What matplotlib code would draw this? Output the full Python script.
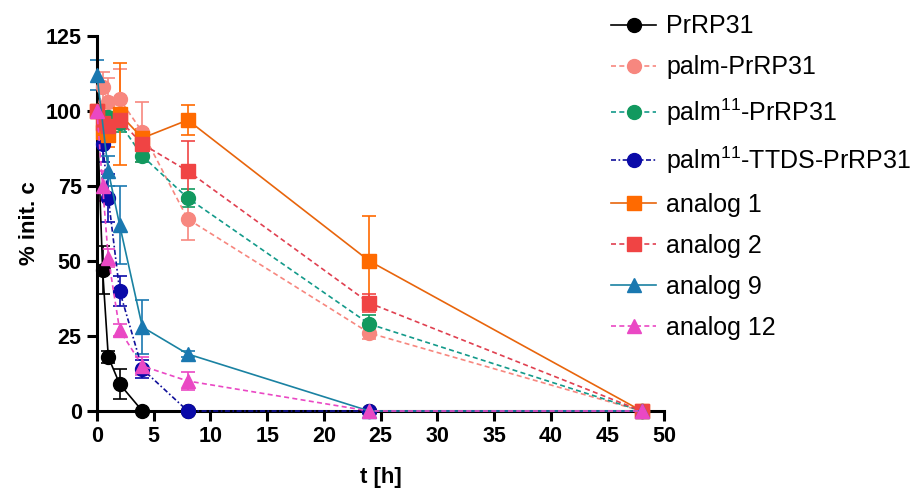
import matplotlib
matplotlib.use("Agg")
import matplotlib.pyplot as plt

plt.rcParams['font.family'] = ['Liberation Sans', 'DejaVu Sans']
plt.rcParams['mathtext.fontset'] = 'custom'
plt.rcParams['mathtext.rm'] = 'Liberation Sans'
plt.rcParams['mathtext.default'] = 'regular'

labels = ["PrRP31", "palm-PrRP31", "palm$^{11}$-PrRP31", "palm$^{11}$-TTDS-PrRP31",
          "analog 1", "analog 2", "analog 9", "analog 12"]

t_prrp31 = [0, 0.5, 1, 2, 4, 8, 24, 48]
y_prrp31 = [100, 47, 18, 9, 0, 0, 0, 0]
e_prrp31 = [0, 8, 2, 5, 0, 0, 0, 0]

t_palm = [0, 0.5, 1, 2, 4, 8, 24, 48]
y_palm = [100, 108, 103, 104, 93, 64, 26, 0]
e_palm = [0, 5, 8, 10, 10, 7, 2, 0]

t_palm11 = [0, 0.5, 1, 2, 4, 8, 24, 48]
y_palm11 = [100, 98, 98, 96, 85, 71, 29, 0]
e_palm11 = [0, 4, 3, 3, 2, 3, 3, 0]

t_ttds = [0, 0.5, 1, 2, 4, 8, 24, 48]
y_ttds = [100, 89, 71, 40, 14, 0, 0, 0]
e_ttds = [0, 6, 8, 5, 3, 0, 0, 0]

t_an1 = [0, 0.5, 1, 2, 4, 8, 24, 48]
y_an1 = [100, 93, 92, 99, 91, 97, 50, 0]
e_an1 = [0, 3, 4, 17, 3, 5, 15, 0]

t_an2 = [0, 0.5, 1, 2, 4, 8, 24, 48]
y_an2 = [100, 96, 95, 97, 89, 80, 36, 0]
e_an2 = [0, 4, 4, 3, 2, 10, 3, 0]

t_an9 = [0, 1, 2, 4, 8, 24, 48]
y_an9 = [112, 80, 62, 28, 19, 0, 0]
e_an9 = [5, 5, 13, 9, 1, 0, 0]

t_an12 = [0, 0.5, 1, 2, 4, 8, 24, 48]
y_an12 = [100, 75, 51, 27, 15, 10, 0, 0]
e_an12 = [0, 5, 3, 2, 3, 3, 0, 0]

series = [
    (t_prrp31, y_prrp31, e_prrp31, "#000000", "#000000", "o", "-"),
    (t_palm, y_palm, e_palm, "#F7877F", "#F7877F", "o", (0, (3, 2))),
    (t_palm11, y_palm11, e_palm11, "#12995F", "#139A8A", "o", (0, (3, 2))),
    (t_ttds, y_ttds, e_ttds, "#0A0AA8", "#10109A", "o", (0, (3, 1.5, 1, 1.5))),
    (t_an1, y_an1, e_an1, "#FF6A00", "#E8650C", "s", "-"),
    (t_an2, y_an2, e_an2, "#F04444", "#E04050", "s", (0, (3, 2))),
    (t_an9, y_an9, e_an9, "#1A78B0", "#1A82A2", "^", "-"),
    (t_an12, y_an12, e_an12, "#EA48C4", "#EA48C4", "^", (0, (3, 2))),
]

fig = plt.figure(figsize=(9.19, 4.94), dpi=100)
ax = fig.add_axes([0.1055, 0.168, 0.6175, 0.759])

handles = []
for (t, y, e, mc, lc, m, ls), lab in zip(series, labels):
    ax.errorbar(t, y, yerr=e, fmt='none', ecolor=mc, elinewidth=1.2,
                capsize=5, capthick=1.2, zorder=2, clip_on=False)
    ln, = ax.plot(t, y, linestyle=ls, color=lc, linewidth=1.2, marker=m,
                  markersize=10, markerfacecolor=mc,
                  markeredgecolor=mc, label=lab, zorder=3, clip_on=False)
    handles.append(ln)

ax.set_xlim(0, 50)
ax.set_ylim(0, 125)
ax.set_xticks(range(0, 51, 5))
ax.set_yticks([0, 25, 50, 75, 100, 125])
for s in ['top', 'right']:
    ax.spines[s].set_visible(False)
for s in ['left', 'bottom']:
    ax.spines[s].set_linewidth(2.2)
ax.tick_params(axis='both', length=7, width=2.2, labelsize=15.5, pad=4)
for lab in ax.get_xticklabels() + ax.get_yticklabels():
    lab.set_fontweight('bold')
ax.set_xlabel("t [h]", fontsize=16, fontweight='bold', labelpad=14)
ax.set_ylabel("% init. c", fontsize=16, fontweight='bold', labelpad=4)

fig.legend(handles=handles, labels=labels, loc='upper left',
           bbox_to_anchor=(0.665, 0.971), frameon=False, fontsize=18,
           handlelength=1.8, handletextpad=0.4, labelspacing=0.68,
           borderaxespad=0.0, borderpad=0.0)

fig.savefig("out.png", dpi=100)
